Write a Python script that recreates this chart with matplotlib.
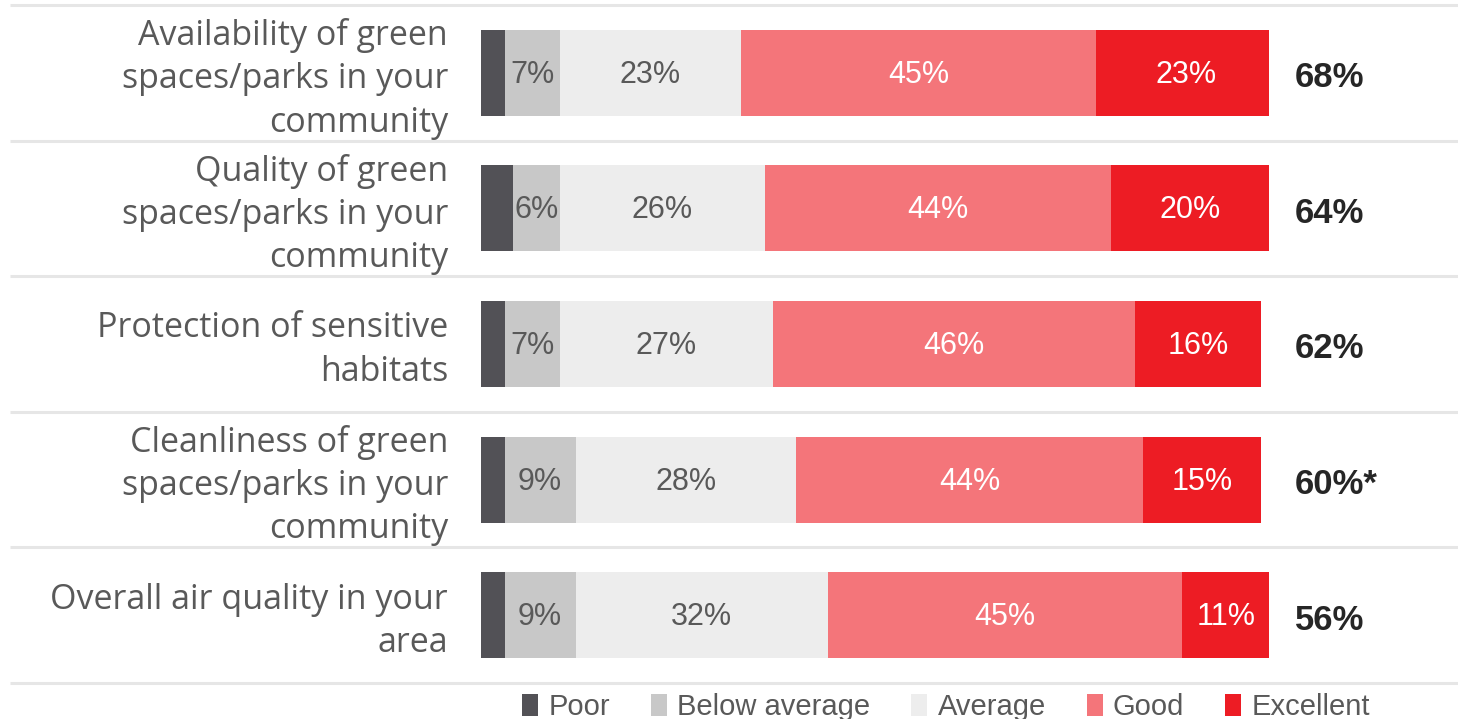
import matplotlib
matplotlib.use("Agg")
import matplotlib.pyplot as plt
from matplotlib import font_manager
from matplotlib.transforms import blended_transform_factory, offset_copy

categories = [
    "Availability of green\nspaces/parks in your\ncommunity",
    "Quality of green\nspaces/parks in your\ncommunity",
    "Protection of sensitive\nhabitats",
    "Cleanliness of green\nspaces/parks in your\ncommunity",
    "Overall air quality in your\narea",
]
series_names = ["Poor", "Below average", "Average", "Good", "Excellent"]
poor = [3, 4, 3, 3, 3]
below_average = [7, 6, 7, 9, 9]
average = [23, 26, 27, 28, 32]
good = [45, 44, 46, 44, 45]
excellent = [23, 20, 16, 15, 11]
totals = ["68%", "64%", "62%", "60%*", "56%"]

colors = ["#525156", "#C8C8C8", "#EDEDED", "#F4757A", "#ED1C24"]
label_colors = [None, "#595959", "#595959", "#FFFFFF", "#FFFFFF"]

names = {f.name for f in font_manager.fontManager.ttflist}
legend_family = "Liberation Sans Narrow" if "Liberation Sans Narrow" in names else "Liberation Sans"

W, H = 1458, 719
fig = plt.figure(figsize=(W / 100, H / 100), dpi=100)
ax = fig.add_axes([481 / W, 1 - 683 / H, 788 / W, 678 / H])
ax.set_xlim(0, 100)
ax.set_ylim(4.5, -0.5)
ax.axis("off")

lbl_trans = offset_copy(ax.transData, fig=fig, x=0, y=-2, units="dots")

series = [poor, below_average, average, good, excellent]
y = list(range(len(categories)))
left = [0] * len(categories)
handles = []
for s, vals in enumerate(series):
    bars = ax.barh(y, vals, left=left, height=0.635, color=colors[s],
                   label=series_names[s])
    handles.append(bars)
    if label_colors[s] is not None:
        for i, v in enumerate(vals):
            ax.text(left[i] + v / 2, i, f"{v}%", ha="center", va="center",
                    fontsize=22, color=label_colors[s], family="Liberation Sans",
                    transform=lbl_trans)
    left = [l + v for l, v in zip(left, vals)]

# category labels and totals
trans_fig_x = blended_transform_factory(fig.transFigure, ax.transData)
cat_trans = offset_copy(trans_fig_x, fig=fig, x=0, y=-6, units="dots")
tot_trans = offset_copy(trans_fig_x, fig=fig, x=0, y=-5, units="dots")
for i, c in enumerate(categories):
    ax.text(448 / W, i, c, transform=cat_trans, ha="right", va="center",
            fontsize=24.5, color="#595959", family="Open Sans", linespacing=1.36)
    ax.text(1295 / W, i, totals[i], transform=tot_trans, ha="left", va="center",
            fontsize=25, color="#262626", family="Liberation Sans", fontweight="bold")

# separators
for k in range(len(categories) + 1):
    yy = k - 0.5
    ax.plot([10 / W, 1.0], [yy, yy], transform=trans_fig_x, color="#E6E6E6",
            lw=2.2, clip_on=False, solid_capstyle="butt")

leg = fig.legend(handles=handles, labels=series_names, loc="center",
                 bbox_to_anchor=(946 / W, 1 - 707 / H), ncol=5, frameon=False,
                 prop={"family": legend_family, "size": 21},
                 handlelength=0.55, handleheight=0.75, handletextpad=0.35,
                 columnspacing=1.4)
for t in leg.get_texts():
    t.set_color("#595959")

fig.savefig("out.png", dpi=100)
